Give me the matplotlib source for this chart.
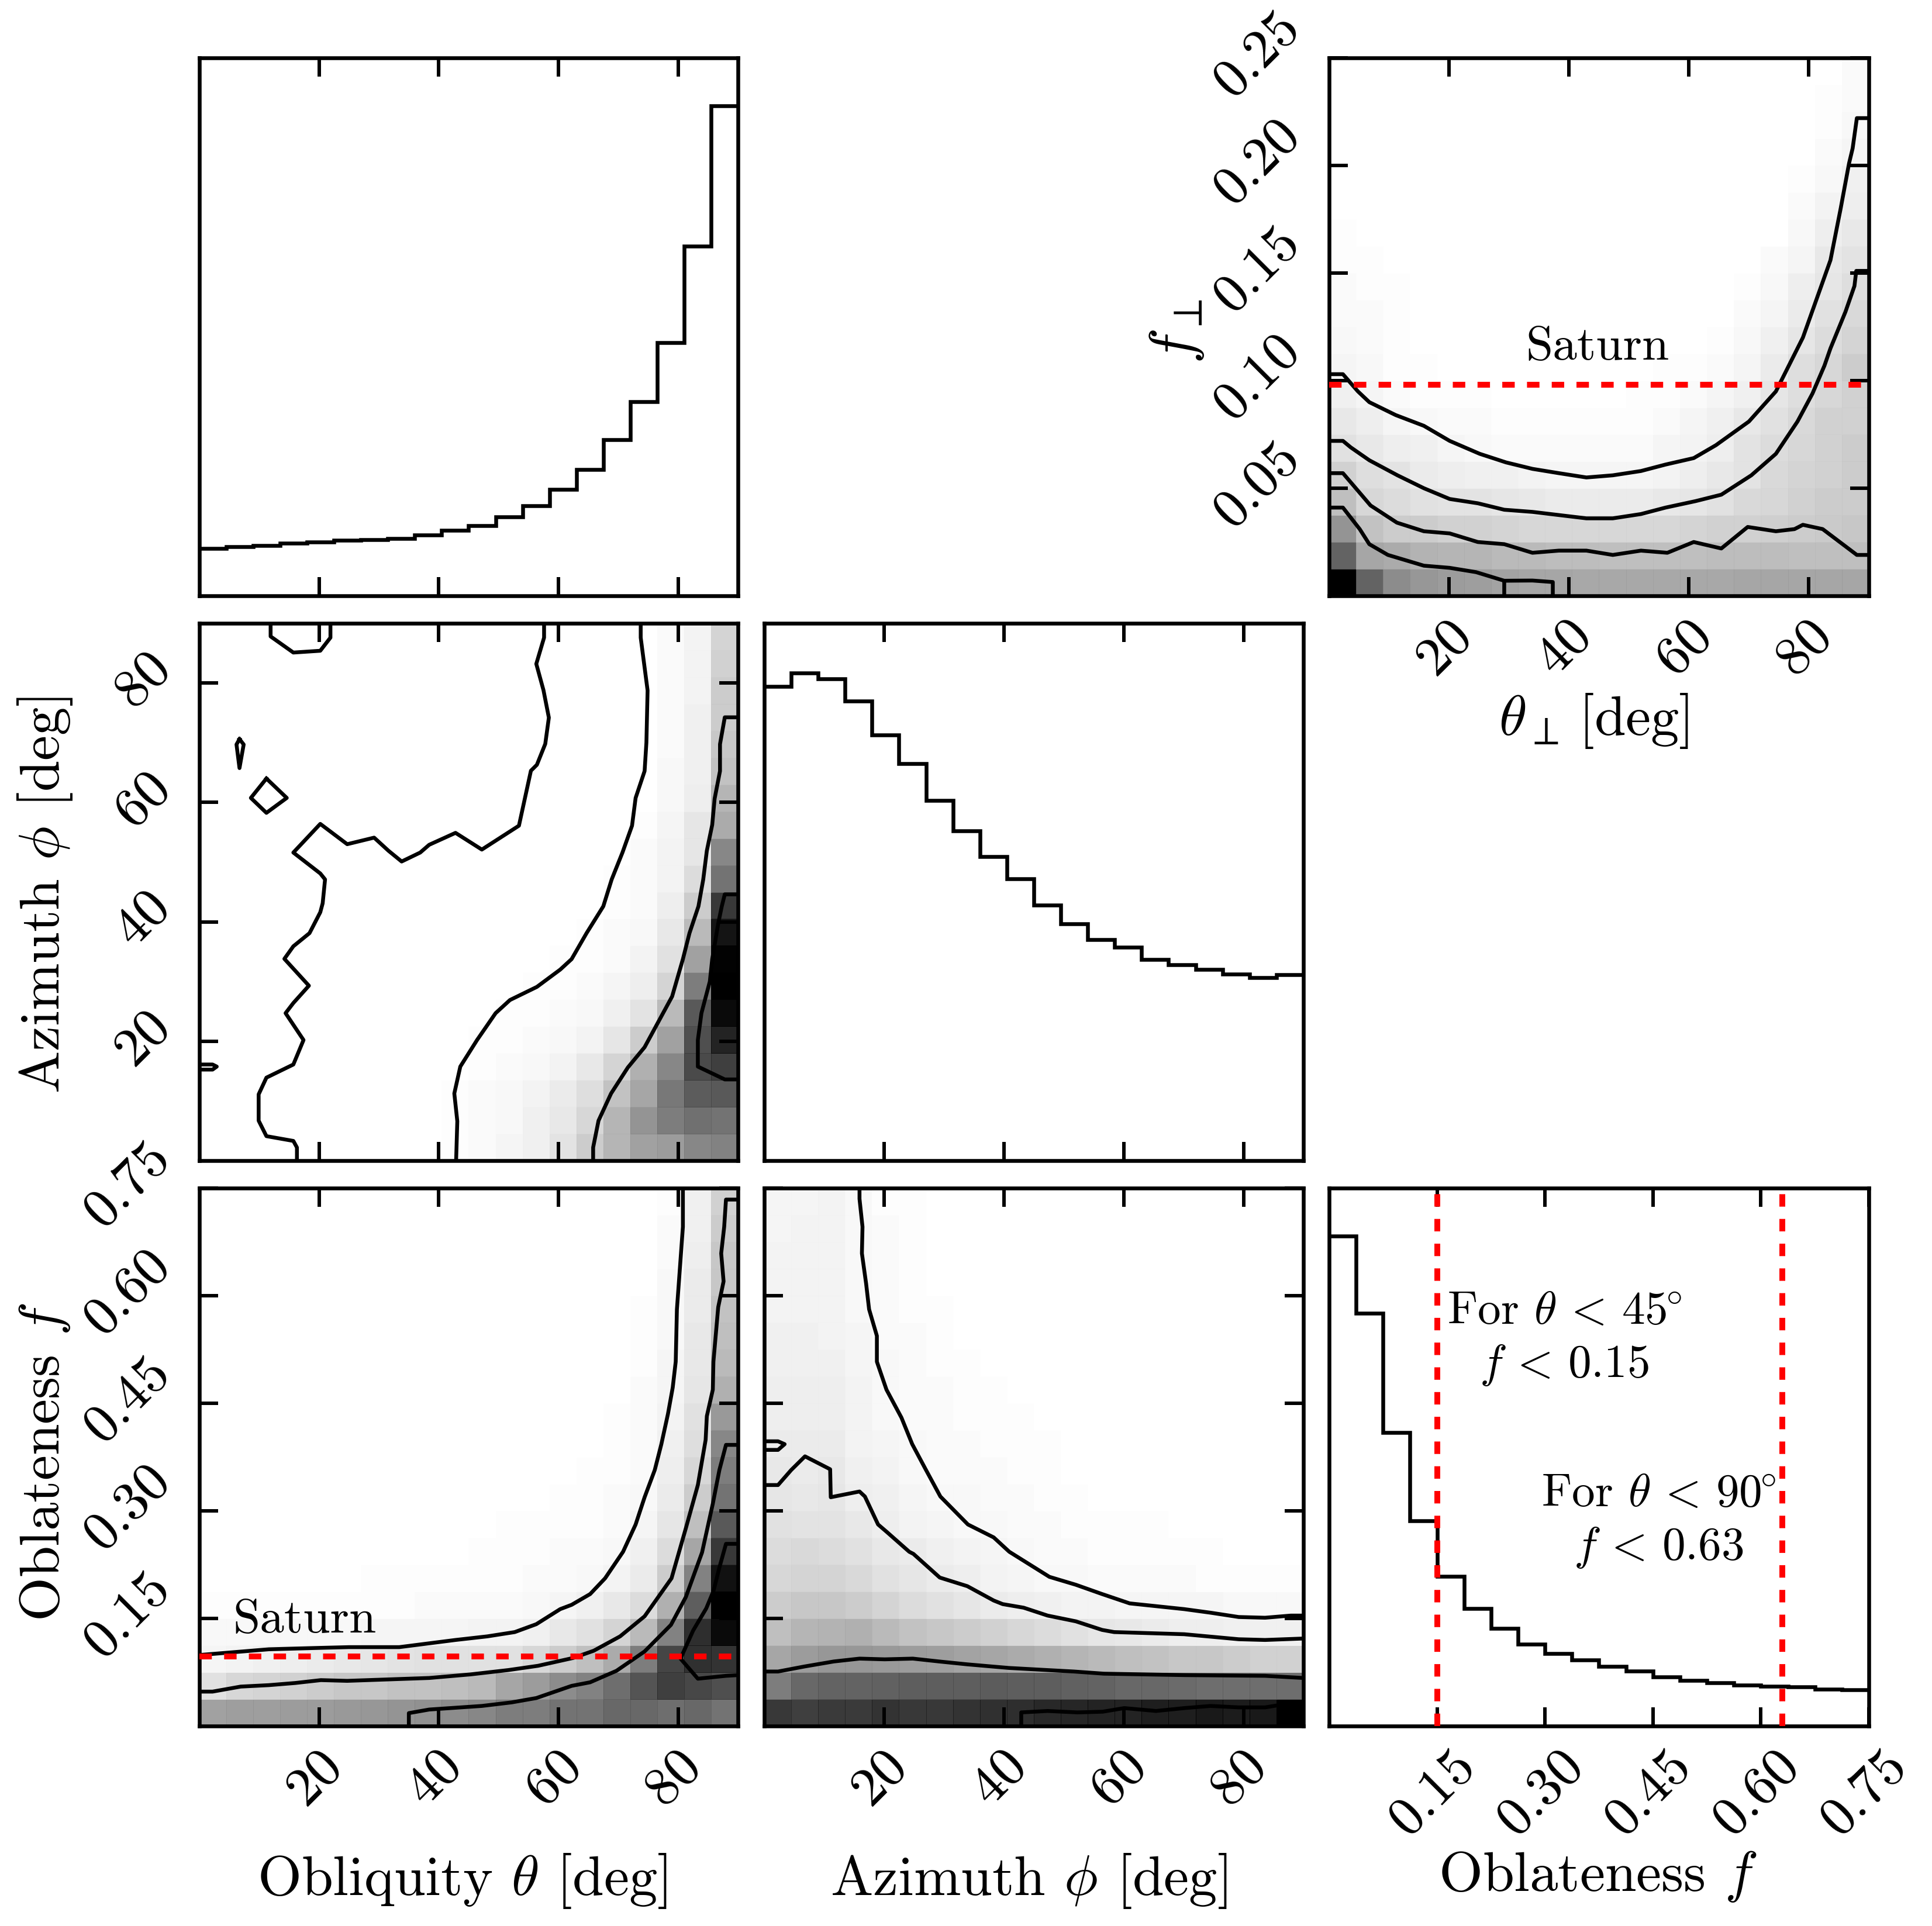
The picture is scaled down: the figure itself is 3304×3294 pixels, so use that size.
import numpy as np
import matplotlib
matplotlib.use('Agg')
import matplotlib.pyplot as plt
from matplotlib.colors import LinearSegmentedColormap
from matplotlib.transforms import ScaledTranslation

plt.rcParams['font.family'] = 'cmr10'
plt.rcParams['mathtext.fontset'] = 'cm'
plt.rcParams['axes.unicode_minus'] = False
plt.rcParams['axes.formatter.use_mathtext'] = True

W, H = 3305, 3294
# ---------- data ----------
hist_theta = [8.8,9.1,9.4,9.8,10.0,10.3,10.4,10.7,11.3,12.2,13.0,14.7,16.7,19.8,23.5,29.0,36.1,47.1,65.0,91.1]
hist_phi = [88.3,90.8,89.7,85.5,79.2,73.9,67.0,61.4,56.6,52.5,47.5,44.1,41.1,39.7,37.4,36.5,35.6,34.7,34.1,34.6]
hist_f = [91.1,76.7,54.6,38.1,27.8,21.8,18.1,15.2,13.5,12.3,11.1,10.2,9.1,8.5,8.0,7.6,7.4,7.3,6.9,6.7]

# darkness in percent, rows from the bottom
grid_theta_phi = [
 [0]*9+[1,2,4,6,11,20,29,37,39,47,49],
 [0]*9+[1,2,3,6,9,16,29,42,51,56,55],
 [0]*9+[1,2,3,5,8,13,24,35,53,64,65],
 [0]*10+[1,2,3,5,9,17,31,47,71,75],
 [0]*10+[1,1,2,3,5,10,20,37,69,86],
 [0]*11+[1,1,2,3,6,11,27,65,96],
 [0]*12+[1,1,2,4,7,17,51,100],
 [0]*13+[1,1,2,5,12,37,99],
 [0]*14+[1,2,3,9,27,92],
 [0]*15+[1,2,7,20,78],
 [0]*15+[1,2,5,14,55],
 [0]*16+[2,5,10,47],
 [0]*16+[1,4,10,33],
 [0]*17+[3,7,29],
 [0]*17+[3,6,24],
 [0]*17+[2,6,22],
 [0]*17+[2,6,20],
 [0]*17+[2,5,20],
 [0]*17+[2,5,18],
 [0]*17+[2,5,17],
]
grid_theta_f = [
 [37,38,38,39,39,40,41,42,43,45,47,51,51,55,55,59,59,57,59,55],
 [12,16,17,18,20,22,22,24,24,25,27,35,39,45,49,57,67,75,72,69],
 [4,5,6,7,8,9,10,11,12,12,12,12,16,20,25,33,51,73,81,80],
 [3,3,3,3,3,3,4,4,4,4,5,5,6,9,12,17,27,49,82,96],
 [1,1,1,1,1,1,1,1,2,2,2,2,3,4,6,9,14,31,63,100],
 [0,0,0,0,0,0,1,1,1,1,1,1,2,2,3,5,8,20,49,93],
 [0]*10+[1,1,1,2,2,3,6,14,35,78],
 [0]*11+[1,1,1,1,2,4,10,25,65],
 [0]*13+[1,1,2,3,8,20,55],
 [0]*14+[1,1,2,7,16,51],
 [0]*15+[1,2,6,13,47],
 [0]*15+[1,2,5,12,40],
 [0]*16+[2,4,10,31],
 [0]*16+[1,4,9,27],
 [0]*16+[1,3,9,25],
 [0]*16+[1,3,8,24],
 [0]*17+[3,8,22],
 [0]*17+[2,7,22],
 [0]*17+[2,6,20],
 [0]*17+[1,6,18],
]
grid_phi_f = [
 [78,75,77,77,80,78,78,80,81,82,84,85,86,86,88,88,90,89,90,100],
 [51,59,61,61,62,63,63,63,64,63,63,62,61,59,59,58,57,57,57,57],
 [35,39,41,41,40,39,38,36,35,33,31,29,27,25,24,22,22,20,18,18],
 [25,29,30,31,27,24,22,20,18,16,14,12,10,9,8,7,7,6,6,6],
 [20,22,22,20,17,14,12,10,8,7,6,5,5,4,4,4,4,3,3,3],
 [16,17,17,15,12,10,8,7,5,4,3,3,2,2,2,2,1,1,1,1],
 [14,15,14,12,9,8,6,5,4,3,2,2,1,1,1,1,1,0,0,0],
 [12,11,11,9,7,5,4,3,3,2,2,1,1,1,1,0,0,0,0,0],
 [10,9,10,7,6,4,3,3,2,2,1,1]+[0]*8,
 [9,8,9,6,5,3,2,2,2,1,1]+[0]*9,
 [8,8,8,5,4,3,2,2,1,1,1]+[0]*9,
 [7,7,7,5,3,2,2,1,1,1]+[0]*10,
 [7,7,7,5,3,2,2,1,1]+[0]*11,
 [6,6,6,4,3,2,1,1]+[0]*12,
 [6,6,5,4,2,2,1]+[0]*13,
 [5,5,5,3,2,1,1]+[0]*13,
 [5,5,5,3,2,1]+[0]*14,
 [5,5,5,3,2,1]+[0]*14,
 [4,5,5,3,2,1]+[0]*14,
 [4,4,5,3,1,1]+[0]*14,
]
grid_thetaperp_fperp = [
 [100,61,45,41,39,38,36,35,35,34,34,34,34,34,34,35,35,35,35,35],
 [61,35,33,30,29,29,27,27,26,26,25,25,25,25,26,26,26,25,25,25],
 [42,24,20,20,18,18,17,16,16,16,16,16,16,17,18,18,19,20,21,22],
 [25,16,14,12,11,11,10,9,8,8,8,8,9,10,12,15,16,18,20,20],
 [18,13,11,8,7,6,6,5,4,4,4,4,5,7,9,11,15,17,18,20],
 [12,9,7,6,4,3,2,2,2,2,2,2,4,5,7,11,14,16,18,20],
 [9,7,4,3,2,2,1,1,1,1,1,1,2,4,6,9,12,15,18,18],
 [6,4,2,1,1,1,0,0,0,0,0,1,1,2,4,6,10,13,16,18],
 [4,3,1,1]+[0]*8+[1,1,2,4,8,13,16,20],
 [3,2,1]+[0]*11+[1,3,6,10,14,17],
 [2,2,1]+[0]*12+[2,4,8,12,15],
 [2,1,1]+[0]*12+[1,3,7,10,13],
 [1,1]+[0]*14+[2,4,9,11],
 [1]+[0]*16+[3,7,9],
 [0]*17+[2,5,7],
 [0]*17+[1,3,6],
 [0]*18+[2,4],
 [0]*18+[1,3],
 [0]*18+[1,2],
 [0]*19+[2],
]

# contour paths (x, y) in data units
tp_x1 = [57.6,57.6,56.3,57.5,58.4,57.8,56.4,55.4,53.4,47.2,42.8,38.4,36.9,33.8,31.6,29.2,24.7,20.2,15.7,20.2,21,20.6,20.2,18.4,15.7,14.2,18.3,15.7,14.4,17.4,15.7,11.2,9.9,9.9,11.2,15.7,16.3,16.3]
tp_y1 = [90,87.6,83.2,78.8,74.2,69.8,66.3,65.3,56.1,52.1,54.9,52.9,51.6,50.1,51.9,54.1,53,56.4,51.6,48.1,47.1,43.1,41.6,38.1,35.9,33.8,29.3,26.4,24.7,20.2,16.1,13.9,11.1,6.7,4.1,3.3,2.2,0]
tp_x1b = [11.9,11.9,15.7,20.2,21.9,21.9]
tp_y1b = [90,87.8,85.1,85.4,87.6,90]
tp_x1c = [11.2,14.6,11.2,8.6,11.2]
tp_y1c = [64,60.75,58.25,60.75,64]
tp_x1d = [6.7,7.4,6.7,6.2,6.7]
tp_y1d = [70.6,69.7,65.75,69.7,70.6]
tp_x1e = [0,2.2,2.9,2.2,0]
tp_y1e = [16.1,16.1,15.75,15.25,15.25]
tp_x2 = [73.75,73.75,74.9,74.7,74.4,72.9,72.3,70.7,68.9,67.5,64.7,62.2,60.3,56.4,51.9,49.5,46.4,43.6,42.6,43.1,42.9]
tp_y2 = [90,87.6,78.75,70,65.25,60.75,56.1,51.6,47.1,42.6,38.1,33.75,32,29.1,26.9,24.7,20.2,15.75,11.25,6.6,0]
tp_x3 = [90,87.8,87,87,86.1,85.7,84.8,84.2,83.4,81.9,80.8,79,74.4,71.6,68.8,66.7,65.8,65.8]
tp_y3 = [74.25,74.25,69.75,65.25,60.6,56.25,51.9,47.1,42.6,38.1,33.75,27.5,19,15.6,11.25,6.7,2.2,0]
tp_x4 = [90,87.8,87.3,86.7,85.7,85.3,83.9,83.3,83.3,87.8,90]
tp_y4 = [44.6,44.6,42.6,39.7,33.75,30,24.7,20.2,15.75,13.6,13.6]

tf_x1 = [0,11.6,20.3,25,33.4,42.8,48.1,52.7,56.3,60.3,62.2,65.3,67.8,70.8,72.9,74.4,76.1,77.2,78.3,79.1,79.6,79.8,80.8,80.8]
tf_y1 = [.099,.107,.109,.110,.110,.120,.125,.131,.142,.163,.169,.184,.206,.243,.281,.319,.357,.393,.435,.472,.508,.581,.696,.75]
tf_x2 = [0,2.2,6.9,11.6,16,20.3,24.7,38.4,45.3,51.6,56.6,62.5,65.9,70.3,74.4,78.9,81.3,83.3,84.6,84.8,85.8,85.9,86.5,86.7,87.6,87.2,87.7,88,90]
tf_y2 = [.048,.048,.055,.057,.060,.064,.063,.067,.072,.078,.084,.095,.105,.125,.153,.206,.276,.336,.399,.432,.469,.508,.565,.584,.620,.659,.696,.734,.734]
tf_x3 = [35,35,38.4,47.2,52.2,56.3,62.2,65.3,69.7,74.4,78.8,81.3,84,85.8,86.9,88,90]
tf_y3 = [0,.018,.023,.028,.033,.039,.056,.061,.077,.104,.141,.180,.242,.310,.357,.392,.392]
tf_x4 = [90,88,86.9,85.9,84.7,82.5,80.4,83.3,88,90]
tf_y4 = [.254,.254,.221,.188,.164,.133,.094,.066,.070,.071]

pf_x1 = [15.9,15.9,16.4,16.3,17,17.5,18.8,18.8,20.4,22.9,24.7,27,29.4,34,38.3,40.9,47.6,52,56.4,61,70.1,74.5,79.2,83.6,87.9,90]
pf_y1 = [.75,.735,.696,.659,.617,.581,.544,.508,.469,.430,.393,.357,.320,.281,.263,.243,.208,.197,.184,.171,.163,.158,.152,.151,.154,.154]
pf_x2 = [0,2.3,4.5,6.8,11,11.1,15.9,16.8,19,20.4,24.2,24.9,29.3,33.9,38.3,39.8,43.3,47.3,52,56.4,58.4,70.1,79.2,83.6,90]
pf_y2 = [.336,.336,.357,.376,.358,.319,.327,.320,.281,.271,.243,.240,.207,.195,.175,.170,.165,.154,.146,.134,.131,.128,.121,.120,.122]
pf_x2b = [0,2.3,3.4,2.3,0]
pf_y2b = [.397,.397,.393,.385,.385]
pf_x3 = [0,2.3,6.7,11.6,15.9,20.1,24.8,29.2,33.9,40.8,47.3,51.7,56.7,70.1,83.6,90]
pf_y3 = [.076,.076,.083,.090,.094,.093,.094,.090,.086,.081,.078,.076,.073,.071,.070,.067]
pf_x4 = [42.9,42.9,47.3,52.3,56.5,60.1,65.4,70.1,74.5,79.2,83.6,85.8,90]
pf_y4 = [0,.019,.021,.019,.020,.025,.021,.025,.028,.026,.026,.029,.034]

pp_x1 = [0,2.3,4.8,6.7,11.1,15.8,20.1,25.1,29.5,33.9,38.3,42.9,47.3,52,56.1,60.8,64.5,70,74.5,79,83.6,85.3,86.7,87.3,88,90]
pp_y1 = [.103,.103,.095,.090,.084,.079,.072,.066,.062,.059,.057,.055,.056,.058,.061,.064,.070,.081,.095,.120,.156,.180,.201,.208,.222,.222]
pp_x2 = [0,2.3,3.6,6.7,11.4,15.8,20.1,24.8,29.2,33.9,42.9,47.3,52,56.1,61.1,65.4,70.4,74.5,78.1,80.6,82.6,83.6,86.1,87.6,87.9,90]
pp_y2 = [.072,.072,.069,.063,.056,.050,.045,.043,.040,.039,.036,.036,.038,.041,.044,.047,.056,.066,.081,.094,.107,.115,.132,.144,.151,.151]
pp_x3 = [0,2.3,6.9,11.3,15.8,20.1,24.8,29.2,33.9,38.3,42.9,47.3,52,56.4,60.8,65.4,69.8,74.5,77.6,79,82.3,88,90]
pp_y3 = [.057,.057,.042,.034,.030,.029,.025,.024,.020,.021,.021,.019,.021,.020,.025,.022,.032,.030,.031,.033,.031,.019,.019]
pp_x4 = [0,2.3,5.1,6.7,9.8,15.8,20.1,24.5,29.2,29.2]
pp_y4 = [.041,.041,.031,.024,.019,.014,.013,.011,.007,0]
pp_x4b = [29.2,33.9,37.3,37.3]
pp_y4b = [.007,.0071,.0064,0]

saturn_f = 0.0974
saturn_fperp = 0.098
f_limit_45 = 0.15
f_limit_90 = 0.63

deg_ticks = [20, 40, 60, 80]
deg_labels = ['20', '40', '60', '80']
f_ticks = [0.15, 0.30, 0.45, 0.60, 0.75]
f_labels = ['0.15', '0.30', '0.45', '0.60', '0.75']
fp_ticks = [0.05, 0.10, 0.15, 0.20, 0.25]
fp_labels = ['0.05', '0.10', '0.15', '0.20', '0.25']

# ---------- layout ----------
LW_SPINE = 4.7
LW_LINE = 4.7
TICK_FS = 68
LABEL_FS = 69.6
TEXT_FS = 60
NOTE_FS = 57
cols = [(341, 1262), (1307, 2229), (2273, 3196)]
rows = [(99, 1019), (1066, 1985), (2032, 2952)]

fig = plt.figure(figsize=(W/100, H/100), dpi=100)
gray_cmap = LinearSegmentedColormap.from_list('dark', ['#ffffff', '#000000'])


def panel(r, c):
    x0, x1 = cols[c]
    y0, y1 = rows[r]
    ax = fig.add_axes([x0/W, 1-y1/H, (x1-x0)/W, (y1-y0)/H])
    for s in ax.spines.values():
        s.set_linewidth(LW_SPINE)
    ax.tick_params(which='both', direction='in', length=23, width=4.3, top=True, bottom=True,
                   left=True, right=True, labelsize=TICK_FS)
    return ax


def heat(ax, grid, xmax, ymax):
    g = np.array(grid, dtype=float)
    xe = np.linspace(0, xmax, 21)
    ye = np.linspace(0, ymax, 21)
    edge = gray_cmap(np.clip(g*1.1, 0, 100)/100).reshape(-1, 4)
    ax.pcolormesh(xe, ye, g, cmap=gray_cmap, vmin=0, vmax=100, edgecolors=edge,
                  linewidth=0.7, antialiased=True, zorder=0.5)
    ax.set_xlim(0, xmax)
    ax.set_ylim(0, ymax)


def curves(ax, paths):
    for x, y in paths:
        ax.plot(x, y, color='k', lw=LW_LINE, solid_joinstyle='round', zorder=2)


def red(ax, vert, v):
    style = dict(color='#ff0000', lw=7.2, linestyle=(0, (2.13, 2.1)), zorder=3)
    if vert:
        ax.axvline(v, **style)
    else:
        ax.axhline(v, **style)


def xticks(ax, ticks, labels=None):
    ax.set_xticks(ticks)
    if labels:
        ax.set_xticklabels(labels, rotation=45, ha='center', fontsize=TICK_FS)
        ax.tick_params(axis='x', pad=19)
        shift = ScaledTranslation(-7/100, 0, fig.dpi_scale_trans)
        for t in ax.get_xticklabels():
            t.set_transform(t.get_transform() + shift)
    else:
        ax.set_xticklabels([])


def yticks(ax, ticks, labels=None):
    ax.set_yticks(ticks)
    if labels:
        ax.set_yticklabels(labels, rotation=45, va='center', fontsize=TICK_FS)
        ax.tick_params(axis='y', pad=24)
        shift = ScaledTranslation(0, 5/100, fig.dpi_scale_trans)
        for t in ax.get_yticklabels():
            t.set_transform(t.get_transform() + shift)
    else:
        ax.set_yticklabels([])


def xlab(ax, s, xpx, ypx):
    ax.set_xlabel(s, fontsize=LABEL_FS, va='center', ha='center')
    ax.xaxis.set_label_coords(xpx/W, 1-ypx/H, transform=fig.transFigure)


def ylab(ax, s, xpx, ypx, fs=LABEL_FS):
    ax.set_ylabel(s, fontsize=fs, va='center', ha='center', rotation=90)
    ax.yaxis.set_label_coords(xpx/W, 1-ypx/H, transform=fig.transFigure)


edges_deg = np.linspace(0, 90, 21)
edges_f = np.linspace(0, 0.75, 21)

# top left: obliquity histogram
ax = panel(0, 0)
ax.stairs(hist_theta, edges_deg, color='k', lw=LW_LINE, baseline=None)
ax.set_xlim(0, 90); ax.set_ylim(0, 100)
xticks(ax, deg_ticks); yticks(ax, [])

# top right: f_perp vs theta_perp
ax = panel(0, 2)
heat(ax, grid_thetaperp_fperp, 90, 0.25)
curves(ax, [(pp_x1, pp_y1), (pp_x2, pp_y2), (pp_x3, pp_y3), (pp_x4, pp_y4), (pp_x4b, pp_y4b)])
red(ax, False, saturn_fperp)
ax.text(44.8, 0.1155, 'Saturn', fontsize=TEXT_FS, ha='center', va='center', zorder=4)
xticks(ax, deg_ticks, deg_labels)
yticks(ax, fp_ticks, fp_labels)
xlab(ax, r'$\theta_\perp\,$[deg]', 2726, 1233)
ylab(ax, r'$f_\perp$', 2013, 566, fs=74)

# middle left: azimuth vs obliquity
ax = panel(1, 0)
heat(ax, grid_theta_phi, 90, 90)
curves(ax, [(tp_x1, tp_y1), (tp_x1b, tp_y1b), (tp_x1c, tp_y1c), (tp_x1d, tp_y1d), (tp_x1e, tp_y1e),
            (tp_x2, tp_y2), (tp_x3, tp_y3), (tp_x4, tp_y4)])
xticks(ax, deg_ticks)
yticks(ax, deg_ticks, deg_labels)
ylab(ax, r'Azimuth $\phi$ [deg]', 77, 1531)

# middle: azimuth histogram
ax = panel(1, 1)
ax.stairs(hist_phi, edges_deg, color='k', lw=LW_LINE, baseline=None)
ax.set_xlim(0, 90); ax.set_ylim(0, 100)
xticks(ax, deg_ticks); yticks(ax, [])

# bottom left: oblateness vs obliquity
ax = panel(2, 0)
heat(ax, grid_theta_f, 90, 0.75)
curves(ax, [(tf_x1, tf_y1), (tf_x2, tf_y2), (tf_x3, tf_y3), (tf_x4, tf_y4)])
red(ax, False, saturn_f)
ax.text(17.6, 0.147, 'Saturn', fontsize=TEXT_FS, ha='center', va='center', zorder=4)
xticks(ax, deg_ticks, deg_labels)
yticks(ax, f_ticks, f_labels)
xlab(ax, r'Obliquity $\theta$ [deg]', 790, 3217)
ylab(ax, r'Oblateness $f$', 77, 2501)

# bottom middle: oblateness vs azimuth
ax = panel(2, 1)
heat(ax, grid_phi_f, 90, 0.75)
curves(ax, [(pf_x1, pf_y1), (pf_x2, pf_y2), (pf_x2b, pf_y2b), (pf_x3, pf_y3), (pf_x4, pf_y4)])
xticks(ax, deg_ticks, deg_labels)
yticks(ax, f_ticks)
xlab(ax, r'Azimuth $\phi$ [deg]', 1759, 3217)

# bottom right: oblateness histogram
ax = panel(2, 2)
ax.stairs(hist_f, edges_f, color='k', lw=LW_LINE, baseline=None)
ax.set_xlim(0, 0.75); ax.set_ylim(0, 100)
red(ax, True, f_limit_45)
red(ax, True, f_limit_90)
ax.text(0.327, 71.9, 'For $\\theta\\,<\\,45^{\\!\\!\\circ}$\n$f\\,<\\,0.15$', fontsize=NOTE_FS,
        ha='center', va='center', multialignment='center', linespacing=1.27, zorder=4)
ax.text(0.458, 38.0, 'For $\\theta\\,<\\,90^{\\!\\!\\circ}$\n$f\\,<\\,0.63$', fontsize=NOTE_FS,
        ha='center', va='center', multialignment='center', linespacing=1.27, zorder=4)
xticks(ax, f_ticks, f_labels)
yticks(ax, [])
xlab(ax, r'Oblateness $f$', 2732, 3210)

fig.savefig('out.png', dpi=100)
